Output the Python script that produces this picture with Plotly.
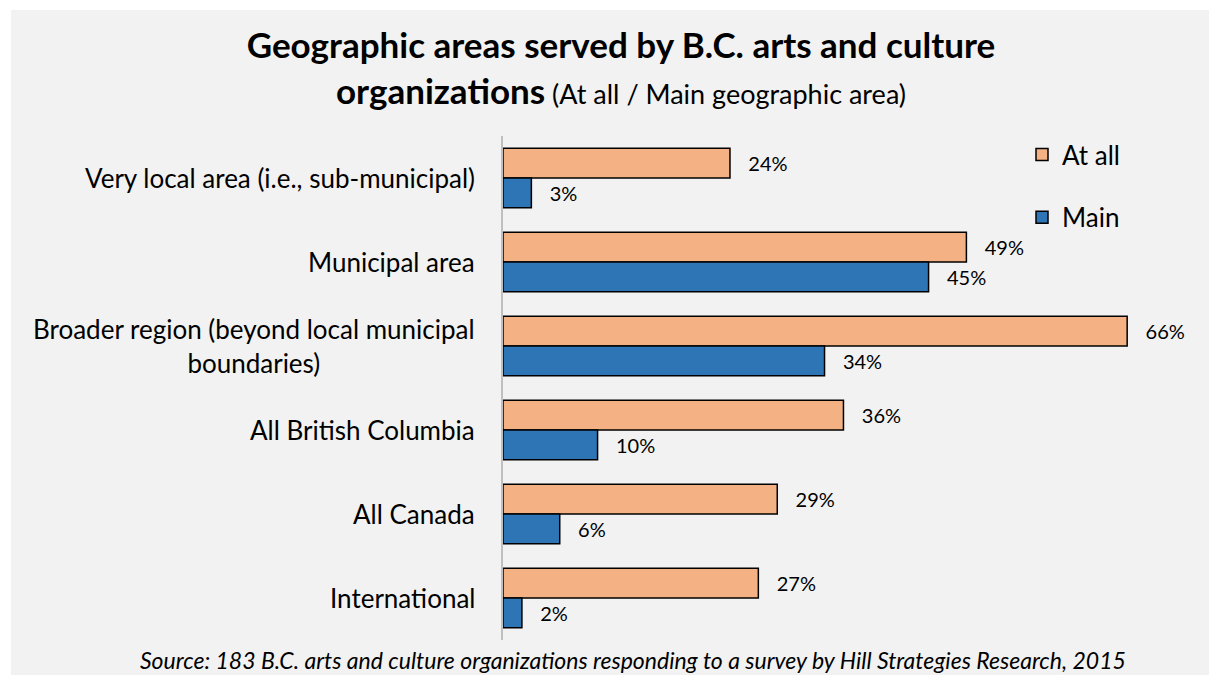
import plotly.graph_objects as go

categories = [
    "Very local area (i.e., sub-municipal)",
    "Municipal area",
    "Broader region (beyond local municipal<br>boundaries)",
    "All British Columbia",
    "All Canada",
    "International",
]
at_all = [24, 49, 66, 36, 29, 27]
main = [3, 45, 34, 10, 6, 2]
series_names = ["At all", "Main"]
colors = ["#F4B183", "#2E75B6"]

FONT = "Lato"
W, H = 1209, 675
ML, MR, MT, MB = 503, 44, 136, 35
PW = W - ML - MR
PH = H - MT - MB

fig = go.Figure()
for i, (name, vals) in enumerate(zip(series_names, [at_all, main])):
    fig.add_trace(go.Bar(
        y=categories, x=vals, orientation="h", name=name,
        marker=dict(color=colors[i], line=dict(color="#000000", width=1.5)),
        text=[f"&nbsp;&nbsp;&nbsp;{v}%" for v in vals],
        texttemplate="%{text}",
        textposition="outside", cliponaxis=False, constraintext="none",
        textfont=dict(family=FONT, size=20, color="#000000"),
        legendgroup=name, hoverinfo="skip",
    ))

# category labels as centered multi-line annotations
for c in categories:
    fig.add_annotation(
        x=0, xref="paper", y=c, yref="y", text=c, showarrow=False,
        xanchor="right", yanchor="middle", align="center", xshift=-26,
        font=dict(family=FONT, size=26, color="#000000"),
    )

fig.add_annotation(
    x=(633 - ML) / PW, xref="paper", y=(MT + PH - 660) / PH, yref="paper",
    text="<i>Source: 183 B.C. arts and culture organizations responding to a survey by Hill Strategies Research, 2015</i>",
    showarrow=False, xanchor="center", yanchor="middle",
    font=dict(family=FONT, size=23, color="#000000"),
)

# grey chart background (starts slightly inset from the top-left)
fig.add_shape(
    type="rect", xref="paper", yref="paper", layer="below",
    x0=(11 - ML) / PW, x1=(W + 5 - ML) / PW,
    y0=(MT + PH - H - 5) / PH, y1=(MT + PH - 10) / PH,
    fillcolor="#F2F2F2", line=dict(width=0),
)

fig.update_layout(
    width=W, height=H,
    margin=dict(l=ML, r=MR, t=MT, b=MB),
    paper_bgcolor="#FFFFFF", plot_bgcolor="#F2F2F2",
    barmode="group", bargap=0.29, bargroupgap=0,
    title=dict(
        text="<b>Geographic areas served by B.C. arts and culture</b><br><b>organizations</b><span style='font-size:27px'> (At all / Main geographic area)</span>",
        x=621 / W, xanchor="center", xref="container",
        y=1 - 58 / H, yanchor="top", yref="container",
        font=dict(family=FONT, size=35, color="#000000"),
    ),
    xaxis=dict(range=[0, 70], visible=False, fixedrange=True),
    yaxis=dict(
        autorange="reversed", showticklabels=False, ticks="",
        showline=True, linecolor="#BFBFBF", linewidth=1.5, showgrid=False,
        zeroline=False, fixedrange=True,
    ),
    legend=dict(
        x=(1022 - ML) / PW, y=(MT + PH - 131) / PH, xanchor="left", yanchor="top",
        font=dict(family=FONT, size=26, color="#000000"),
        bgcolor="rgba(0,0,0,0)", traceorder="grouped", tracegroupgap=26,
    ),
    showlegend=True,
    font=dict(family=FONT),
)

fig.write_html(
    "out.html",
    config={"displayModeBar": False},
    post_script="document.body.style.margin='0';document.body.style.overflow='hidden';",
)
